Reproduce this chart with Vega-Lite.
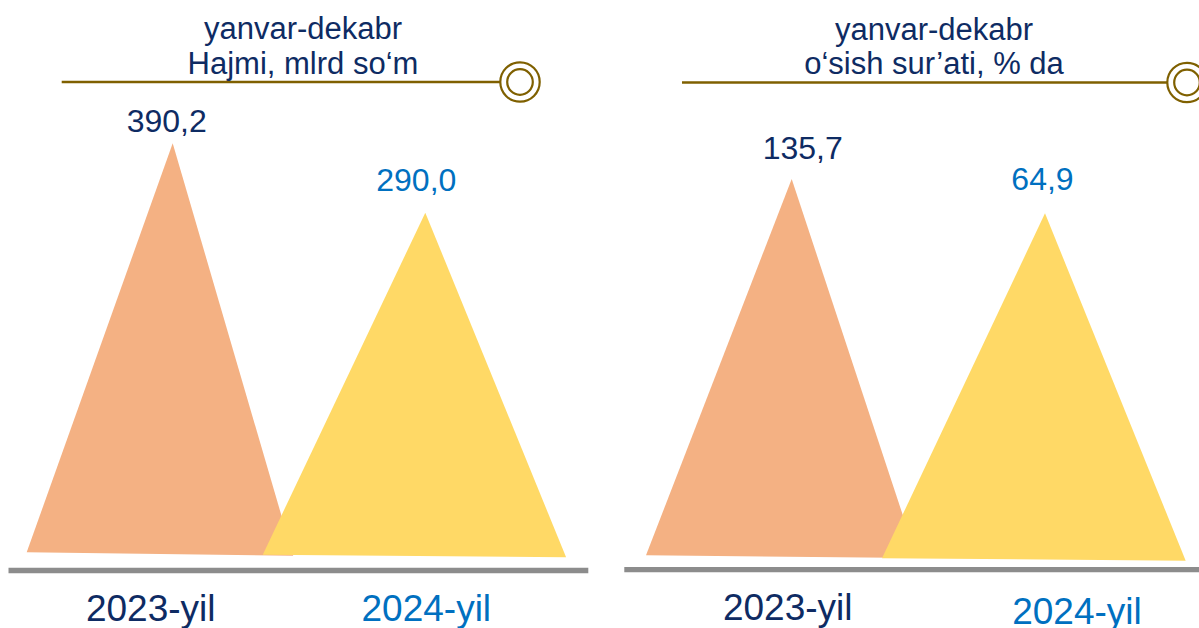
{
  "$schema": "https://vega.github.io/schema/vega-lite/v6.json",
  "padding": 0,
  "spacing": 0,
  "background": "white",
  "config": {
    "view": {"stroke": null},
    "font": "Liberation Sans"
  },
  "datasets": {
    "rows": [
      {"panel": "Hajmi", "label": "2023-yil", "year": 2023, "value": 390.2, "text": "390,2"},
      {"panel": "Hajmi", "label": "2024-yil", "year": 2024, "value": 290.0, "text": "290,0"},
      {"panel": "Osish", "label": "2023-yil", "year": 2023, "value": 135.7, "text": "135,7"},
      {"panel": "Osish", "label": "2024-yil", "year": 2024, "value": 64.9, "text": "64,9"}
    ]
  },
  "hconcat": [
    {
      "width": 620,
      "height": 628,
      "layer": [
        {
          "data": {"name": "rows"},
          "transform": [{"filter": "datum.panel === 'Hajmi' && datum.year === 2023"}],
          "mark": {"type": "point", "filled": true, "size": 4, "strokeWidth": 0, "opacity": 1, "fill": "#F4B183", "shape": "M0,0 L-146,409 L120.5,412.5 Z"},
          "encoding": {
            "x": {"field": "year", "type": "quantitative", "axis": null, "scale": {"domain": [2023, 2024], "range": [172.7, 425.3], "zero": false, "nice": false}},
            "y": {"field": "value", "type": "quantitative", "axis": null, "scale": {"domain": [290, 390.2], "range": [212.7, 143.3], "zero": false, "nice": false}}
          }
        },
        {
          "data": {"name": "rows"},
          "transform": [{"filter": "datum.panel === 'Hajmi' && datum.year === 2024"}],
          "mark": {"type": "point", "filled": true, "size": 4, "strokeWidth": 0, "opacity": 1, "fill": "#FFD966", "shape": "M0,0 L-162.5,342 L140.8,344.6 Z"},
          "encoding": {
            "x": {"field": "year", "type": "quantitative"},
            "y": {"field": "value", "type": "quantitative"}
          }
        },
        {
          "data": {"values": [{}]},
          "mark": {"type": "rule", "stroke": "#7F6000", "strokeWidth": 2.5},
          "encoding": {
            "x": {"datum": 2022.5606},
            "x2": {"datum": 2024.3749},
            "y": {"datum": 478.7}
          }
        },
        {
          "data": {"values": [{}]},
          "mark": {"type": "point", "shape": "circle", "filled": true, "fill": "white", "stroke": "#7F6000", "strokeWidth": 2.2, "size": 1552, "opacity": 1},
          "encoding": {
            "x": {"datum": 2024.3749},
            "y": {"datum": 478.7}
          }
        },
        {
          "data": {"values": [{}]},
          "mark": {"type": "point", "shape": "circle", "filled": true, "fill": "white", "stroke": "#7F6000", "strokeWidth": 2.2, "size": 655, "opacity": 1},
          "encoding": {
            "x": {"datum": 2024.3749},
            "y": {"datum": 478.7}
          }
        },
        {
          "data": {"values": [{}]},
          "mark": {"type": "text", "text": ["yanvar-dekabr", "Hajmi, mlrd so‘m"], "fontSize": 31, "lineHeight": 34.5, "align": "center", "baseline": "alphabetic", "color": "#0E2B63"},
          "encoding": {
            "x": {"datum": 2023.5158},
            "y": {"datum": 540.1}
          }
        },
        {
          "data": {"values": [{}]},
          "mark": {"type": "rule", "stroke": "#8C8C8C", "strokeWidth": 5.3},
          "encoding": {
            "x": {"datum": 2022.35},
            "x2": {"datum": 2024.6453},
            "y": {"datum": -226.6}
          }
        },
        {
          "data": {"name": "rows"},
          "transform": [{"filter": "datum.panel === 'Hajmi' && datum.year === 2023"}],
          "mark": {"type": "text", "fontSize": 32, "align": "center", "baseline": "alphabetic", "color": "#0E2B63", "dx": -6, "dy": -11.6},
          "encoding": {
            "x": {"field": "year", "type": "quantitative"},
            "y": {"field": "value", "type": "quantitative"},
            "text": {"field": "text", "type": "nominal"}
          }
        },
        {
          "data": {"name": "rows"},
          "transform": [{"filter": "datum.panel === 'Hajmi' && datum.year === 2024"}],
          "mark": {"type": "text", "fontSize": 32, "align": "center", "baseline": "alphabetic", "color": "#0070C0", "dx": -9, "dy": -22},
          "encoding": {
            "x": {"field": "year", "type": "quantitative"},
            "y": {"field": "value", "type": "quantitative"},
            "text": {"field": "text", "type": "nominal"}
          }
        },
        {
          "data": {"name": "rows"},
          "transform": [{"filter": "datum.panel === 'Hajmi' && datum.year === 2023"}],
          "mark": {"type": "text", "fontSize": 37, "align": "center", "baseline": "alphabetic", "color": "#0E2B63", "dx": -22, "dy": 50.5},
          "encoding": {
            "x": {"field": "year", "type": "quantitative"},
            "y": {"datum": -226.6},
            "text": {"field": "label", "type": "nominal"}
          }
        },
        {
          "data": {"name": "rows"},
          "transform": [{"filter": "datum.panel === 'Hajmi' && datum.year === 2024"}],
          "mark": {"type": "text", "fontSize": 37, "align": "center", "baseline": "alphabetic", "color": "#0070C0", "dx": 1, "dy": 50.5},
          "encoding": {
            "x": {"field": "year", "type": "quantitative"},
            "y": {"datum": -226.6},
            "text": {"field": "label", "type": "nominal"}
          }
        }
      ]
    },
    {
      "width": 579,
      "height": 628,
      "layer": [
        {
          "data": {"name": "rows"},
          "transform": [{"filter": "datum.panel === 'Osish' && datum.year === 2023"}],
          "mark": {"type": "point", "filled": true, "size": 4, "strokeWidth": 0, "opacity": 1, "fill": "#F4B183", "shape": "M0,0 L-145.7,376.3 L125.3,379 Z"},
          "encoding": {
            "x": {"field": "year", "type": "quantitative", "axis": null, "scale": {"domain": [2023, 2024], "range": [171.7, 425], "zero": false, "nice": false}},
            "y": {"field": "value", "type": "quantitative", "axis": null, "scale": {"domain": [64.9, 135.7], "range": [213.3, 179], "zero": false, "nice": false}}
          }
        },
        {
          "data": {"name": "rows"},
          "transform": [{"filter": "datum.panel === 'Osish' && datum.year === 2024"}],
          "mark": {"type": "point", "filled": true, "size": 4, "strokeWidth": 0, "opacity": 1, "fill": "#FFD966", "shape": "M0,0 L-163,345 L140.7,347.4 Z"},
          "encoding": {
            "x": {"field": "year", "type": "quantitative"},
            "y": {"field": "value", "type": "quantitative"}
          }
        },
        {
          "data": {"values": [{}]},
          "mark": {"type": "rule", "stroke": "#7F6000", "strokeWidth": 2.5},
          "encoding": {
            "x": {"datum": 2022.5669},
            "x2": {"datum": 2024.5606},
            "y": {"datum": 334.9}
          }
        },
        {
          "data": {"values": [{}]},
          "mark": {"type": "point", "shape": "circle", "filled": true, "fill": "white", "stroke": "#7F6000", "strokeWidth": 2.2, "size": 1552, "opacity": 1, "clip": true},
          "encoding": {
            "x": {"datum": 2024.5606},
            "y": {"datum": 334.9}
          }
        },
        {
          "data": {"values": [{}]},
          "mark": {"type": "point", "shape": "circle", "filled": true, "fill": "white", "stroke": "#7F6000", "strokeWidth": 2.2, "size": 655, "opacity": 1, "clip": true},
          "encoding": {
            "x": {"datum": 2024.5606},
            "y": {"datum": 334.9}
          }
        },
        {
          "data": {"values": [{}]},
          "mark": {"type": "text", "text": ["yanvar-dekabr", "o‘sish sur’ati, % da"], "fontSize": 31, "lineHeight": 34.5, "align": "center", "baseline": "alphabetic", "color": "#0E2B63"},
          "encoding": {
            "x": {"datum": 2023.5618},
            "y": {"datum": 423.2}
          }
        },
        {
          "data": {"values": [{}]},
          "mark": {"type": "rule", "stroke": "#8C8C8C", "strokeWidth": 5.3, "clip": true},
          "encoding": {
            "x": {"datum": 2022.3391},
            "x2": {"datum": 2024.62},
            "y": {"datum": -670.8}
          }
        },
        {
          "data": {"name": "rows"},
          "transform": [{"filter": "datum.panel === 'Osish' && datum.year === 2023"}],
          "mark": {"type": "text", "fontSize": 32, "align": "center", "baseline": "alphabetic", "color": "#0E2B63", "dx": 11, "dy": -19.7},
          "encoding": {
            "x": {"field": "year", "type": "quantitative"},
            "y": {"field": "value", "type": "quantitative"},
            "text": {"field": "text", "type": "nominal"}
          }
        },
        {
          "data": {"name": "rows"},
          "transform": [{"filter": "datum.panel === 'Osish' && datum.year === 2024"}],
          "mark": {"type": "text", "fontSize": 32, "align": "center", "baseline": "alphabetic", "color": "#0070C0", "dx": -2.5, "dy": -23.3},
          "encoding": {
            "x": {"field": "year", "type": "quantitative"},
            "y": {"field": "value", "type": "quantitative"},
            "text": {"field": "text", "type": "nominal"}
          }
        },
        {
          "data": {"name": "rows"},
          "transform": [{"filter": "datum.panel === 'Osish' && datum.year === 2023"}],
          "mark": {"type": "text", "fontSize": 37, "align": "center", "baseline": "alphabetic", "color": "#0E2B63", "dx": -4, "dy": 50.3},
          "encoding": {
            "x": {"field": "year", "type": "quantitative"},
            "y": {"datum": -670.8},
            "text": {"field": "label", "type": "nominal"}
          }
        },
        {
          "data": {"name": "rows"},
          "transform": [{"filter": "datum.panel === 'Osish' && datum.year === 2024"}],
          "mark": {"type": "text", "fontSize": 37, "align": "center", "baseline": "alphabetic", "color": "#0070C0", "dx": 32, "dy": 54.5},
          "encoding": {
            "x": {"field": "year", "type": "quantitative"},
            "y": {"datum": -670.8},
            "text": {"field": "label", "type": "nominal"}
          }
        }
      ]
    }
  ]
}
